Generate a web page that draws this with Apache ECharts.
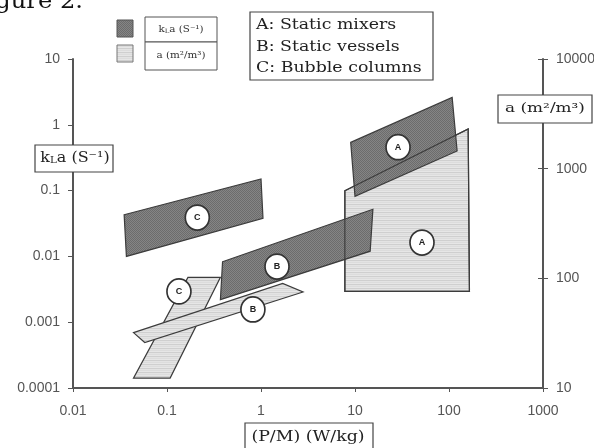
<!DOCTYPE html>
<html>
<head>
<meta charset="utf-8">
<script src="https://cdn.jsdelivr.net/npm/echarts@6/dist/echarts.min.js"></script>
<style>html,body{margin:0;padding:0;background:#fff;}#c{width:594px;height:448px;}</style>
</head>
<body>
<div id="c"></div>
<script>
// ---- tick labels ----
const xTicks = ['0.01', '0.1', '1', '10', '100', '1000'];
const kLaTicks = ['0.0001', '0.001', '0.01', '0.1', '1', '10'];
const aTicks = ['10', '100', '1000', '10000'];

// ---- kLa regions (left axis, s^-1) vs P/M (W/kg) ----
const kLaStaticMixers   = [[9, 0.54], [108, 2.6], [122, 0.40], [10, 0.082]];
const kLaStaticVessels  = [[0.39, 0.0083], [15.5, 0.052], [14.5, 0.012], [0.37, 0.0022]];
const kLaBubbleColumns  = [[0.035, 0.043], [1.0, 0.15], [1.05, 0.038], [0.037, 0.010]];

// ---- a regions (right axis, m2/m3) vs P/M (W/kg) ----
const aStaticMixers  = [[7.8, 630], [160, 2300], [165, 76], [7.8, 76]];
const aStaticVessels = [[0.044, 32], [1.7, 90], [2.8, 75], [0.058, 26]];
const aBubbleColumns = [[0.044, 12.3], [0.108, 12.3], [0.37, 102], [0.167, 102]];

// ---- region labels ----
const kLaLabels = [[28.7, 0.456, 'A'], [1.48, 0.0070, 'B'], [0.21, 0.039, 'C']];
const aLabels   = [[51.6, 212, 'A'], [0.82, 52, 'B'], [0.134, 76, 'C']];

function makePattern(rows, w) {
  const c = document.createElement('canvas');
  c.width = w; c.height = rows.length;
  const ctx = c.getContext('2d');
  rows.forEach((r, i) => {
    for (let j = 0; j < w; j++) {
      ctx.fillStyle = Array.isArray(r) ? r[j % r.length] : r;
      ctx.fillRect(j, i, 1, 1);
    }
  });
  return { image: c, repeat: 'repeat' };
}
const darkFill = makePattern([['#6c6c6c', '#858585'], ['#858585', '#6c6c6c']], 2);
const lightFill = makePattern(['#cfcfcf', '#e3e3e3', '#dcdcdc', '#e6e6e6'], 1);

function poly(name, pts, yIdx, fill, z, strokeOnly) {
  return {
    type: 'custom', name: name, coordinateSystem: 'cartesian2d',
    xAxisIndex: 0, yAxisIndex: yIdx, data: [pts[0]], z: z, silent: true, clip: false,
    renderItem: function (params, api) {
      return {
        type: 'polygon',
        shape: { points: pts.map(p => api.coord(p)) },
        style: { fill: strokeOnly ? 'none' : fill, stroke: '#3c3c3c', lineWidth: 1.2 }
      };
    }
  };
}
function labelSeries(data, yIdx) {
  return {
    type: 'scatter', xAxisIndex: 0, yAxisIndex: yIdx, data: data, z: 20, silent: true,
    symbol: 'circle', symbolSize: [24, 25],
    itemStyle: { color: '#fff', borderColor: '#333', borderWidth: 1.7, opacity: 1 },
    label: { show: true, position: 'inside', formatter: p => p.data[2],
      fontSize: 9, fontWeight: 'bold', color: '#222', fontFamily: 'Liberation Sans' }
  };
}
function fmt(labels) {
  return v => labels.find(t => Math.abs(Math.log10(+t) - Math.log10(v)) < 1e-6) || '';
}
const axisLine = { show: true, lineStyle: { color: '#555', width: 2 } };
const tickLabel = { color: '#555', fontSize: 14, fontFamily: 'Liberation Sans' };

const chart = echarts.init(document.getElementById('c'), null, { renderer: 'canvas' });
chart.setOption({
  animation: false,
  backgroundColor: '#fff',
  grid: { left: 73, right: 51, top: 59, bottom: 60, containLabel: false, outerBoundsMode: 'none' },
  xAxis: [{
    type: 'log', logBase: 10, min: 0.01, max: 1000,
    axisLine: axisLine, axisTick: { show: true, length: 4, lineStyle: { color: '#555' } },
    splitLine: { show: false }, minorTick: { show: false },
    axisLabel: Object.assign({ margin: 16, formatter: fmt(xTicks) }, tickLabel)
  }],
  yAxis: [{
    type: 'log', logBase: 10, min: 0.0001, max: 10, position: 'left',
    axisLine: axisLine, axisTick: { show: true, length: 5, lineStyle: { color: '#555' } },
    splitLine: { show: false },
    axisLabel: Object.assign({ margin: 13, formatter: fmt(kLaTicks) }, tickLabel)
  }, {
    type: 'log', logBase: 10, min: 10, max: 10000, position: 'right',
    axisLine: axisLine, axisTick: { show: true, length: 5, lineStyle: { color: '#555' } },
    splitLine: { show: false },
    axisLabel: Object.assign({ margin: 13, formatter: fmt(aTicks) }, tickLabel)
  }, {
    type: 'log', logBase: 10, min: 10, max: 10000, position: 'right',
    axisLine: { show: false }, axisTick: { show: true, inside: true, length: 5, lineStyle: { color: '#555' } },
    splitLine: { show: false }, axisLabel: { show: false }
  }],
  series: [
    poly('a static mixers', aStaticMixers, 1, lightFill, 1),
    poly('a bubble columns', aBubbleColumns, 1, lightFill, 2),
    poly('kLa static mixers', kLaStaticMixers, 0, darkFill, 3),
    poly('kLa static vessels', kLaStaticVessels, 0, darkFill, 4),
    poly('kLa bubble columns', kLaBubbleColumns, 0, darkFill, 5),
    poly('a static mixers edge', aStaticMixers, 1, null, 6, true),
    poly('a static vessels', aStaticVessels, 1, lightFill, 7),
    labelSeries(kLaLabels, 0),
    labelSeries(aLabels, 1)
  ],
  graphic: [
    { type: 'text', x: 83, y: 13, z: 30, scaleX: 1.1,
      style: { text: 'Figure 2.', font: '22px "DejaVu Serif"', fill: '#111', align: 'right', verticalAlign: 'bottom' } },
    // legend swatches
    { type: 'rect', shape: { x: 117, y: 20, width: 16, height: 17 }, z: 30,
      style: { fill: darkFill, stroke: '#555', lineWidth: 1 } },
    { type: 'rect', shape: { x: 117, y: 45, width: 16, height: 17 }, z: 30,
      style: { fill: lightFill, stroke: '#777', lineWidth: 1 } },
    { type: 'rect', shape: { x: 145, y: 17, width: 72, height: 25 }, z: 30,
      style: { fill: '#fff', stroke: '#555', lineWidth: 1 } },
    { type: 'rect', shape: { x: 145, y: 42, width: 72, height: 28 }, z: 30,
      style: { fill: '#fff', stroke: '#555', lineWidth: 1 } },
    { type: 'text', x: 181, y: 30, z: 31, scaleX: 1.15,
      style: { text: '{n|k}{s|L}{n|a (S⁻¹)}', align: 'center', verticalAlign: 'middle',
        rich: { n: { font: '9px "DejaVu Serif"', fill: '#333' }, s: { font: '6px "DejaVu Serif"', fill: '#333', verticalAlign: 'bottom' } } } },
    { type: 'text', x: 181, y: 56, z: 31, scaleX: 1.15,
      style: { text: 'a (m²/m³)', font: '9px "DejaVu Serif"', fill: '#333', align: 'center', verticalAlign: 'middle' } },
    // region key
    { type: 'rect', shape: { x: 250, y: 12, width: 183, height: 68 }, z: 30,
      style: { fill: '#fff', stroke: '#444', lineWidth: 1.2 } },
    { type: 'text', x: 256, y: 25, z: 31, scaleX: 1.24,
      style: { text: 'A: Static mixers', font: '14px "DejaVu Serif"', fill: '#222', verticalAlign: 'middle' } },
    { type: 'text', x: 256, y: 47, z: 31, scaleX: 1.24,
      style: { text: 'B: Static vessels', font: '14px "DejaVu Serif"', fill: '#222', verticalAlign: 'middle' } },
    { type: 'text', x: 256, y: 68, z: 31, scaleX: 1.24,
      style: { text: 'C: Bubble columns', font: '14px "DejaVu Serif"', fill: '#222', verticalAlign: 'middle' } },
    // axis title boxes
    { type: 'rect', shape: { x: 35, y: 145, width: 78, height: 27 }, z: 30,
      style: { fill: '#fff', stroke: '#444', lineWidth: 1.2 } },
    { type: 'text', x: 75, y: 158, z: 31, scaleX: 1.14,
      style: { text: '{n|k}{s|L}{n|a (S⁻¹)}', align: 'center', verticalAlign: 'middle',
        rich: { n: { font: '14px "DejaVu Serif"', fill: '#222' }, s: { font: '9px "DejaVu Serif"', fill: '#222', verticalAlign: 'bottom' } } } },
    { type: 'rect', shape: { x: 498, y: 95, width: 94, height: 28 }, z: 30,
      style: { fill: '#fff', stroke: '#444', lineWidth: 1.2 } },
    { type: 'text', x: 545, y: 109, z: 31, scaleX: 1.3,
      style: { text: 'a (m²/m³)', font: '13px "DejaVu Serif"', fill: '#222', align: 'center', verticalAlign: 'middle' } },
    { type: 'rect', shape: { x: 245, y: 423, width: 128, height: 30 }, z: 30,
      style: { fill: '#fff', stroke: '#444', lineWidth: 1.2 } },
    { type: 'text', x: 308, y: 437, z: 31, scaleX: 1.24,
      style: { text: '(P/M) (W/kg)', font: '14px "DejaVu Serif"', fill: '#222', align: 'center', verticalAlign: 'middle' } }
  ]
});
</script>
</body>
</html>
